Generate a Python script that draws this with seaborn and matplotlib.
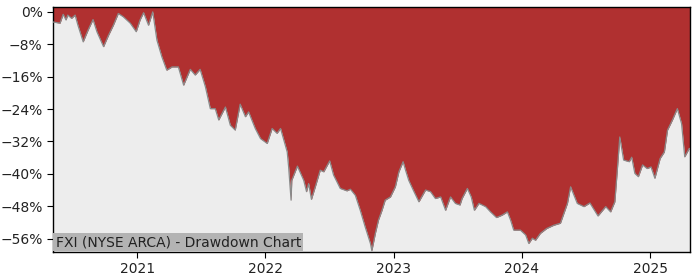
import matplotlib
matplotlib.use("Agg")
import matplotlib.pyplot as plt
import matplotlib.dates as mdates
from matplotlib.ticker import FuncFormatter, FixedLocator
import seaborn as sns
import pandas as pd

dates = [
    "2020-05-06", "2020-05-26", "2020-06-04", "2020-06-12", "2020-06-17", "2020-06-28",
    "2020-07-08", "2020-07-16", "2020-07-31", "2020-08-14", "2020-08-28", "2020-09-08",
    "2020-09-27", "2020-10-11", "2020-10-25", "2020-11-08", "2020-11-22", "2020-12-12",
    "2020-12-29", "2021-01-09", "2021-01-19", "2021-02-02", "2021-02-14", "2021-02-26",
    "2021-03-12", "2021-03-26", "2021-04-10", "2021-04-28", "2021-05-13", "2021-06-01",
    "2021-06-15", "2021-06-29", "2021-07-14", "2021-07-28", "2021-08-11", "2021-08-21",
    "2021-09-09", "2021-09-23", "2021-10-07", "2021-10-21", "2021-11-05", "2021-11-14",
    "2021-12-03", "2021-12-18", "2022-01-06", "2022-01-20", "2022-02-03", "2022-02-13",
    "2022-03-04", "2022-03-08", "2022-03-15", "2022-03-17", "2022-04-02", "2022-04-20",
    "2022-04-28", "2022-05-04", "2022-05-12", "2022-05-23", "2022-06-06", "2022-06-16",
    "2022-07-03", "2022-07-14", "2022-08-02", "2022-08-21", "2022-08-31", "2022-09-14",
    "2022-09-28", "2022-10-12", "2022-10-27", "2022-10-31", "2022-11-10", "2022-11-19",
    "2022-11-29", "2022-12-08", "2022-12-23", "2023-01-06", "2023-01-16", "2023-01-28",
    "2023-02-04", "2023-02-13", "2023-02-28", "2023-03-14", "2023-04-02", "2023-04-16",
    "2023-04-30", "2023-05-15", "2023-05-29", "2023-06-12", "2023-06-26", "2023-07-09",
    "2023-07-15", "2023-07-30", "2023-08-10", "2023-08-19", "2023-09-01", "2023-09-20",
    "2023-10-04", "2023-10-21", "2023-11-06", "2023-11-21", "2023-11-30", "2023-12-09",
    "2023-12-28", "2024-01-12", "2024-01-21", "2024-01-31", "2024-02-09", "2024-02-23",
    "2024-03-12", "2024-04-01", "2024-04-20", "2024-05-10", "2024-05-19", "2024-06-07",
    "2024-06-26", "2024-07-13", "2024-08-05", "2024-08-27", "2024-09-10", "2024-09-22",
    "2024-09-29", "2024-10-06", "2024-10-17", "2024-11-02", "2024-11-09", "2024-11-18",
    "2024-11-28", "2024-12-10", "2024-12-23", "2025-01-03", "2025-01-14", "2025-01-29",
    "2025-02-10", "2025-02-19", "2025-03-05", "2025-03-19", "2025-03-31", "2025-04-09",
    "2025-04-22", "2025-04-24",
]
drawdown = [
    -2.5, -2.8, -0.6, -2.0, -0.8, -1.6,
    -0.8, -3.3, -7.4, -4.5, -1.9, -4.9,
    -8.6, -5.8, -3.3, -0.4, -1.2, -2.8,
    -4.9, -2.0, -0.2, -3.3, 0.0, -7.0,
    -11.1, -14.4, -13.6, -13.6, -18.1, -14.2,
    -15.6, -14.2, -18.5, -23.9, -23.9, -26.7,
    -23.5, -28.0, -29.2, -22.8, -25.9, -24.7,
    -28.8, -31.3, -32.5, -28.8, -30.0, -28.8,
    -34.6, -38.3, -46.5, -41.6, -38.1, -41.6,
    -44.4, -42.4, -46.3, -43.2, -39.1, -39.5,
    -36.8, -40.3, -43.6, -44.2, -43.8, -45.3,
    -49.0, -53.1, -57.2, -59.0, -54.7, -51.4,
    -49.0, -46.5, -45.7, -43.2, -39.5, -37.0,
    -39.1, -41.6, -44.4, -46.9, -44.0, -44.4,
    -46.1, -45.7, -49.0, -45.7, -47.3, -47.7,
    -46.1, -43.6, -45.7, -49.0, -47.3, -48.1,
    -49.4, -50.8, -50.2, -49.4, -51.4, -53.9,
    -53.9, -55.1, -57.2, -55.9, -56.4, -54.7,
    -53.5, -52.7, -52.2, -47.3, -43.2, -47.3,
    -48.1, -47.2, -50.4, -48.1, -49.4, -46.9,
    -39.1, -30.9, -36.6, -37.0, -35.9, -39.9,
    -40.7, -37.8, -38.7, -38.3, -41.1, -36.2,
    -34.6, -29.2, -26.7, -23.9, -27.6, -35.8,
    -33.7, -34.0,
]
y_ticks = [0, -8, -16, -24, -32, -40, -48, -56]
x_tick_years = ["2021", "2022", "2023", "2024", "2025"]
title_text = "FXI (NYSE ARCA) - Drawdown Chart"

df = pd.DataFrame({"date": pd.to_datetime(dates), "drawdown": drawdown})

sns.set_style("ticks")
plt.rcParams["font.family"] = ["DejaVu Sans"]

fig = plt.figure(figsize=(7, 2.8), dpi=100)
ax = fig.add_axes([53 / 700, 1 - 252 / 280, (690 - 53) / 700, (252 - 7) / 280])
ax.set_facecolor("#EDEDED")

y_top = 1.2
ax.fill_between(df["date"], df["drawdown"], y_top + 5, color="#B03030", linewidth=0, zorder=2)
sns.lineplot(data=df, x="date", y="drawdown", ax=ax, color="#8A8A8A", linewidth=0.9, zorder=3)

ax.set_xlim(df["date"].iloc[0], df["date"].iloc[-1])
ax.set_ylim(-59.3, y_top)

ax.yaxis.set_major_locator(FixedLocator(y_ticks))
ax.yaxis.set_major_formatter(FuncFormatter(lambda v, p: f"{v:.0f}%".replace("-", "\u2212")))
ax.xaxis.set_major_locator(FixedLocator([mdates.date2num(pd.Timestamp(y + "-01-01")) for y in x_tick_years]))
ax.xaxis.set_major_formatter(mdates.DateFormatter("%Y"))

ax.set_xlabel("")
ax.set_ylabel("")
ax.tick_params(axis="both", labelsize=10, length=4, width=0.8, color="black", labelcolor="#222222")
for s in ax.spines.values():
    s.set_visible(True)
    s.set_color("black")
    s.set_linewidth(1.0)

ax.text(0.004, 0.012, title_text, transform=ax.transAxes, fontsize=10, color="#222222",
        ha="left", va="bottom", zorder=5,
        bbox=dict(boxstyle="square,pad=0.15", facecolor="#B3B3B3", edgecolor="none"))

fig.savefig("out.png", dpi=100)
